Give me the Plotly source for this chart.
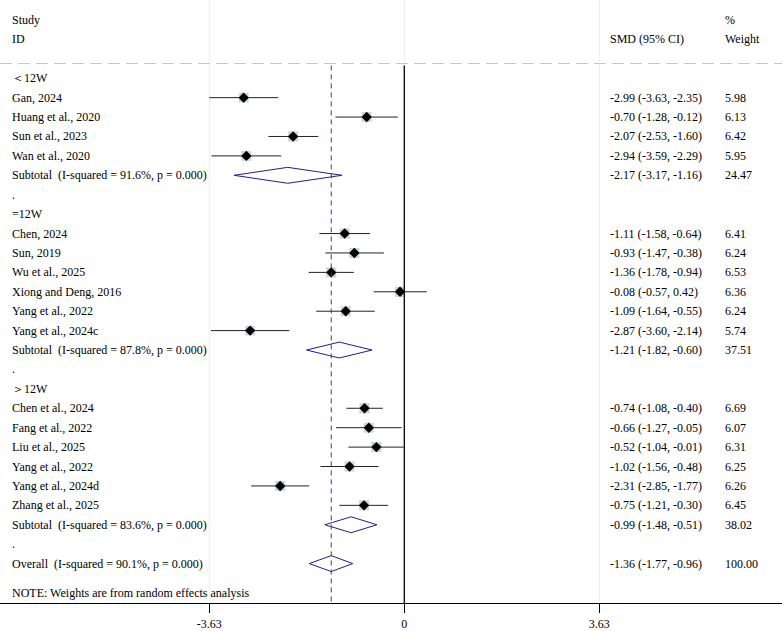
import plotly.graph_objects as go

# ---------------- data ----------------
group_labels = ["＜12W", "=12W", "＞12W"]

g1_studies = ["Gan, 2024", "Huang et al., 2020", "Sun et al., 2023", "Wan et al., 2020"]
g1_smd = [-2.99, -0.70, -2.07, -2.94]
g1_lo = [-3.63, -1.28, -2.53, -3.59]
g1_hi = [-2.35, -0.12, -1.60, -2.29]
g1_w = [5.98, 6.13, 6.42, 5.95]
g1_sub = (-2.17, -3.17, -1.16, 24.47, 91.6, 0.000)

g2_studies = ["Chen, 2024", "Sun, 2019", "Wu et al., 2025", "Xiong and Deng, 2016",
              "Yang et al., 2022", "Yang et al., 2024c"]
g2_smd = [-1.11, -0.93, -1.36, -0.08, -1.09, -2.87]
g2_lo = [-1.58, -1.47, -1.78, -0.57, -1.64, -3.60]
g2_hi = [-0.64, -0.38, -0.94, 0.42, -0.55, -2.14]
g2_w = [6.41, 6.24, 6.53, 6.36, 6.24, 5.74]
g2_sub = (-1.21, -1.82, -0.60, 37.51, 87.8, 0.000)

g3_studies = ["Chen et al., 2024", "Fang et al., 2022", "Liu et al., 2025", "Yang et al., 2022",
              "Yang et al., 2024d", "Zhang et al., 2025"]
g3_smd = [-0.74, -0.66, -0.52, -1.02, -2.31, -0.75]
g3_lo = [-1.08, -1.27, -1.04, -1.56, -2.85, -1.21]
g3_hi = [-0.40, -0.05, -0.01, -0.48, -1.77, -0.30]
g3_w = [6.69, 6.07, 6.31, 6.25, 6.26, 6.45]
g3_sub = (-0.99, -1.48, -0.51, 38.02, 83.6, 0.000)

overall = (-1.36, -1.77, -0.96, 100.00, 90.1, 0.000)
tick_vals = [-3.63, 0, 3.63]
tick_text = ["-3.63", "0", "3.63"]

groups = [
    (group_labels[0], g1_studies, g1_smd, g1_lo, g1_hi, g1_w, g1_sub),
    (group_labels[1], g2_studies, g2_smd, g2_lo, g2_hi, g2_w, g2_sub),
    (group_labels[2], g3_studies, g3_smd, g3_lo, g3_hi, g3_w, g3_sub),
]

# ---------------- styling ----------------
FONT = "Liberation Serif, Times New Roman, serif"
FS = 12
SQ_COLOR = "#b3c6ca"
DIA_COLOR = "#1f1f8c"
REF_COLOR = "#8c2346"
DASH_COLOR = "#b8ccd6"

W, H = 782, 631
MB = 24
X_MIN, X_MAX = -7.526, 7.031
Y_TOP, Y_BOT = -4.03, 27.03
X_LEFT = 10 / W
X_SMD = 608 / W
X_WT = 723 / W
HEADER_LINE = -0.76
DH = 0.41  # half-height of summary diamonds (rows)

fig = go.Figure()
ann = []


def txt(x, y, s, xanchor="left"):
    ann.append(dict(x=x, y=y, xref="paper", yref="y", text=s, showarrow=False,
                    xanchor=xanchor, yanchor="middle",
                    font=dict(family=FONT, size=FS, color="black")))


def fmt_ci(v, lo, hi):
    return f"{v:.2f} ({lo:.2f}, {hi:.2f})"


ci_x, ci_y = [], []
pt_x, pt_y, pt_s = [], [], []
dia_x, dia_y = [], []

row = 0
def add_summary(label, s, r):
    v, lo, hi, w, i2, p = s
    txt(X_LEFT, r, f"{label}\u00a0\u00a0(I-squared = {i2:.1f}%, p = {p:.3f})")
    txt(X_SMD, r, fmt_ci(v, lo, hi))
    txt(X_WT, r, f"{w:.2f}")
    dia_x.extend([lo, v, hi, v, lo, None])
    dia_y.extend([r, r - DH, r, r + DH, r, None])


for (gl, names, smd, lo, hi, w, sub) in groups:
    txt(X_LEFT, row, gl)
    row += 1
    for n, v, l, h, ww in zip(names, smd, lo, hi, w):
        txt(X_LEFT, row, n)
        txt(X_SMD, row, fmt_ci(v, l, h))
        txt(X_WT, row, f"{ww:.2f}")
        ci_x.extend([l, h, None])
        ci_y.extend([row, row, None])
        pt_x.append(v)
        pt_y.append(row)
        pt_s.append(4.0 * ww ** 0.5)
        row += 1
    add_summary("Subtotal", sub, row)
    row += 1
    txt(X_LEFT, row, ".")
    row += 1

add_summary("Overall", overall, row)
overall_row = row
txt(X_LEFT, row + 1.5, "NOTE: Weights are from random effects analysis")

# headers
txt(X_LEFT, -3.0, "Study")
txt(X_LEFT, -2.0, "ID")
txt(X_SMD, -2.0, "SMD (95% CI)")
txt(X_WT, -3.0, "%")
txt(X_WT, -2.0, "Weight")

# reference lines
shapes = [
    dict(type="line", xref="paper", yref="y", x0=0, x1=1, y0=HEADER_LINE, y1=HEADER_LINE,
         line=dict(color=DASH_COLOR, width=1.2, dash="12px,6px")),
    dict(type="line", xref="x", yref="y", x0=0, x1=0, y0=HEADER_LINE + 0.1, y1=Y_BOT,
         line=dict(color="black", width=1.3)),
    dict(type="line", xref="x", yref="y", x0=overall[0], x1=overall[0], y0=HEADER_LINE + 0.1, y1=Y_BOT,
         line=dict(color=REF_COLOR, width=1, dash="5px,4px")),
]

fig.add_trace(go.Scatter(x=ci_x, y=ci_y, mode="lines", line=dict(color="#222222", width=1),
                         hoverinfo="skip", showlegend=False))
fig.add_trace(go.Scatter(x=pt_x, y=pt_y, mode="markers",
                         marker=dict(symbol="square", size=pt_s, color=SQ_COLOR, line=dict(width=0)),
                         showlegend=False))
fig.add_trace(go.Scatter(x=pt_x, y=pt_y, mode="markers",
                         marker=dict(symbol="diamond", size=8, color="black", line=dict(width=0)),
                         showlegend=False))
fig.add_trace(go.Scatter(x=dia_x, y=dia_y, mode="lines", line=dict(color=DIA_COLOR, width=1),
                         hoverinfo="skip", showlegend=False))

fig.update_layout(
    width=W, height=H,
    margin=dict(l=0, r=0, t=0, b=MB),
    paper_bgcolor="white", plot_bgcolor="white",
    annotations=ann, shapes=shapes,
    xaxis=dict(range=[X_MIN, X_MAX], tickvals=tick_vals, ticktext=tick_text,
               showgrid=True, gridcolor="#efefef", gridwidth=1, zeroline=False,
               showline=True, linecolor="black", linewidth=1.2,
               ticks="outside", ticklen=9, tickcolor="black", tickwidth=1.2,
               tickfont=dict(family=FONT, size=FS, color="black")),
    yaxis=dict(range=[Y_BOT, Y_TOP], showgrid=False, zeroline=False, showticklabels=False,
               showline=False, ticks=""),
)

fig.write_html("out.html")
